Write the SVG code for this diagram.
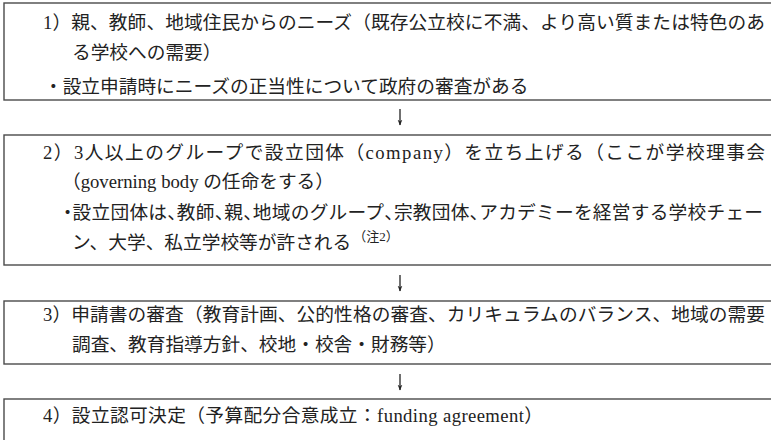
<svg xmlns="http://www.w3.org/2000/svg" width="771" height="440" viewBox="0 0 771 440">
<style>
.box{fill:#fff;stroke:#4a4a4a;stroke-width:1.4}
.t{font-family:"Liberation Serif","Noto Sans CJK JP",serif;font-size:18.7px;fill:#222}
.s{font-size:13px}
.h{font-feature-settings:"halt"}
.c{stroke:#222;stroke-width:1.3;fill:none}
</style>
<defs>
<marker id="ah" viewBox="0 0 10 10" refX="9" refY="5" markerWidth="6" markerHeight="6" orient="auto" markerUnits="userSpaceOnUse">
<path d="M0,1 L10,5 L0,9 L3,5 Z" fill="#222"/>
</marker>
</defs>
<rect width="771" height="440" fill="#fff"/>
<g id="step1">
<rect class="box" x="4" y="3" width="780" height="97"/>
<text class="t" x="43" y="29" textLength="722" lengthAdjust="spacing">1）親、教師、地域住民からのニーズ（既存公立校に不満、より高い質または特色のあ</text>
<text class="t" x="72" y="59">る学校への需要）</text>
<text class="t" x="44" y="93">・設立申請時にニーズの正当性について政府の審査がある</text>
</g>
<g id="step2">
<rect class="box" x="4" y="135" width="780" height="130"/>
<text class="t" x="43" y="159" textLength="722" lengthAdjust="spacing">2）3人以上のグループで設立団体（company）を立ち上げる（ここが学校理事会</text>
<text class="t" x="62" y="188">（governing body の任命をする）</text>
<text class="t" x="63" y="219" textLength="700" lengthAdjust="spacing"><tspan class="h">・</tspan>設立団体は<tspan class="h">、</tspan>教師<tspan class="h">、</tspan>親<tspan class="h">、</tspan>地域のグループ<tspan class="h">、</tspan>宗教団体<tspan class="h">、</tspan>アカデミーを経営する学校チェー</text>
<text class="t" x="72" y="249">ン、大学、私立学校等が許される<tspan class="s" dx="2" dy="-8">（注2）</tspan></text>
</g>
<g id="step3">
<rect class="box" x="4" y="301" width="780" height="63"/>
<text class="t" x="43" y="321" textLength="722" lengthAdjust="spacing">3）申請書の審査（教育計画、公的性格の審査、カリキュラムのバランス、地域の需要</text>
<text class="t" x="72" y="351">調査、教育指導方針、校地・校舎・財務等）</text>
</g>
<g id="step4">
<rect class="box" x="4" y="399" width="780" height="60"/>
<text class="t" x="43" y="422" textLength="500" lengthAdjust="spacing">4）設立認可決定（予算配分合意成立：funding agreement）</text>
</g>
<g id="connectors">
<line class="c" x1="400" y1="109" x2="400" y2="125" marker-end="url(#ah)"/>
<line class="c" x1="400" y1="275" x2="400" y2="291" marker-end="url(#ah)"/>
<line class="c" x1="400" y1="374" x2="400" y2="390" marker-end="url(#ah)"/>
</g>
</svg>
